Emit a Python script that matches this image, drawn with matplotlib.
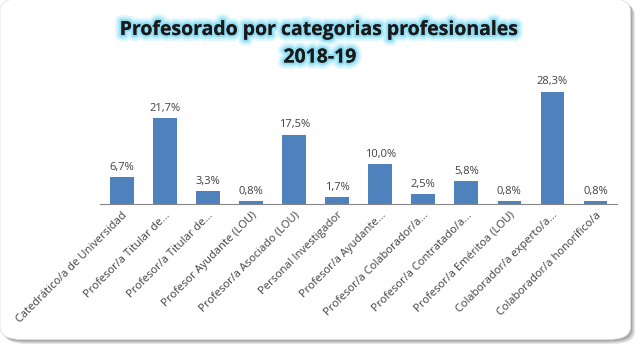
import matplotlib
matplotlib.use("Agg")
import matplotlib.pyplot as plt
import matplotlib.patheffects as pe
from matplotlib.patches import FancyBboxPatch

categories = [
    "Catedrático/a de Universidad",
    "Profesor/a Titular de...",
    "Profesor/a Titular de...",
    "Profesor Ayudante (LOU)",
    "Profesor/a Asociado (LOU)",
    "Personal Investigador",
    "Profesor/a Ayudante...",
    "Profesor/a Colaborador/a...",
    "Profesor/a Contratado/a...",
    "Profesor/a Eméritoa (LOU)",
    "Colaborador/a experto/a...",
    "Colaborador/a honorífico/a",
]
values = [6.7, 21.7, 3.3, 0.8, 17.5, 1.7, 10.0, 2.5, 5.8, 0.8, 28.3, 0.8]
title = "Profesorado por categorias profesionales\n2018-19"

plt.rcParams['font.family'] = ['Open Sans', 'DejaVu Sans']

fig = plt.figure(figsize=(6.4, 3.5), dpi=100)
fig.patch.set_facecolor('white')

# frame with soft shadow
x0, y0, w, h = 0.0, 0.03, 0.985, 0.975
for off, col in [(0.007, '#e4e4e4'), (0.005, '#c8c8c8'), (0.003, '#a8a8a8')]:
    fig.patches.append(FancyBboxPatch((x0 + off, y0 - off * 1.8), w, h,
                                      boxstyle="round,pad=0,rounding_size=0.035",
                                      transform=fig.transFigure, facecolor=col,
                                      edgecolor='none', zorder=0))
fig.patches.append(FancyBboxPatch((x0, y0), w, h, boxstyle="round,pad=0,rounding_size=0.035",
                                  transform=fig.transFigure, facecolor='white',
                                  edgecolor='#e0e0e0', lw=0.6, zorder=0.5))

ax = fig.add_axes([0.157, 0.417, 0.807, 0.34])
ax.set_zorder(2)
ax.set_facecolor('none')
x = range(len(values))
ax.bar(x, values, width=0.55, color='#4f81bd')
for xi, v in zip(x, values):
    ax.text(xi, v + 1.1, f"{v:.1f}%".replace('.', ','), ha='center', va='bottom',
            fontsize=8, color='#404040')
ax.set_xlim(-0.5, len(values) - 0.5)
ax.set_ylim(0, 30)
ax.set_yticks([])
ax.set_xticks(list(x))
ax.set_xticklabels(categories, rotation=45, ha='right', rotation_mode='anchor',
                   fontsize=8, color='#404040')
ax.tick_params(axis='x', length=0, pad=4)
for s in ['top', 'right', 'left']:
    ax.spines[s].set_visible(False)
ax.spines['bottom'].set_color('#868686')
ax.spines['bottom'].set_linewidth(0.8)

glow = [pe.withStroke(linewidth=9, foreground='#e2f7fd'),
        pe.withStroke(linewidth=6, foreground='#bdeefa'),
        pe.withStroke(linewidth=3, foreground='#8fdcf3'),
        pe.Normal()]
t = fig.text(0.5, 0.875, title, ha='center', va='center', fontsize=14, fontweight='bold',
             color='#1a1a1a', linespacing=1.5, path_effects=glow)
t.set_zorder(3)

fig.savefig('out.png', dpi=100)
